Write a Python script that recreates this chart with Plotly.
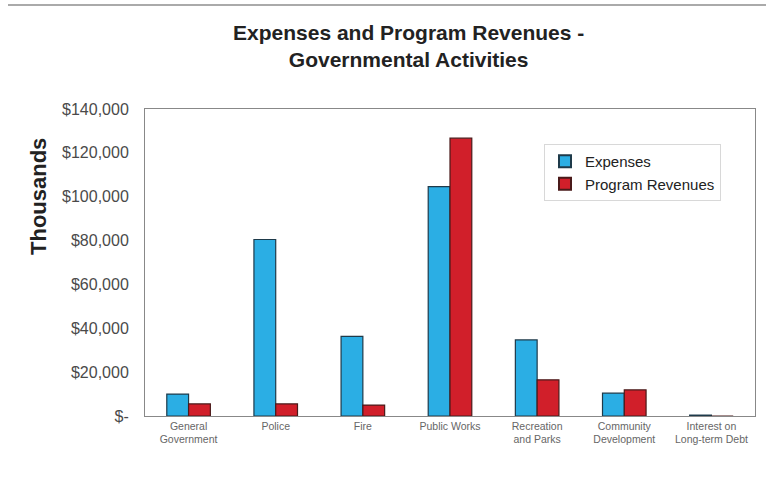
import plotly.graph_objects as go

categories = ["General<br>Government", "Police", "Fire", "Public Works",
              "Recreation<br>and Parks", "Community<br>Development",
              "Interest on<br>Long-term Debt"]
expenses = [10000, 80500, 36300, 104600, 34700, 10400, 400]
program_revenues = [5500, 5500, 5000, 126700, 16500, 11900, 0]
y_tick_values = [0, 20000, 40000, 60000, 80000, 100000, 120000, 140000]
y_tick_labels = ["$-", "$20,000", "$40,000", "$60,000", "$80,000",
                 "$100,000", "$120,000", "$140,000"]

fig = go.Figure()
fig.add_trace(go.Bar(name="Expenses", x=categories, y=expenses, legendgroup="a",
                     marker=dict(color="#2BAEE4", line=dict(color="#1e3a4a", width=1.2))))
fig.add_trace(go.Bar(name="Program Revenues", x=categories, y=program_revenues, legendgroup="b",
                     marker=dict(color="#D11F2A", line=dict(color="#4a1a1a", width=1.2))))

W, H = 766, 485
L, R, T, B = 145, 11, 109, 69
pw, ph = W - L - R, H - T - B

def px(x):
    return (x - L) / pw

def py(y):
    return (H - B - y) / ph

fig.update_layout(
    width=W, height=H,
    margin=dict(l=L, r=R, t=T, b=B),
    paper_bgcolor="white", plot_bgcolor="white",
    barmode="group", bargap=0.5, bargroupgap=0,
    font=dict(family="Arial, Liberation Sans, sans-serif", color="#333"),
    showlegend=True,
    legend=dict(x=px(544), y=py(144), xanchor="left", yanchor="top",
                bgcolor="white", bordercolor="#d8d8d8", borderwidth=1,
                font=dict(size=15, color="#222"), itemsizing="constant",
                tracegroupgap=9, traceorder="normal"),
    xaxis=dict(showline=True, linecolor="#888", linewidth=1, mirror=True,
               ticks="", tickfont=dict(size=10.5, color="#666"), showgrid=False),
    yaxis=dict(range=[0, 140000], tickvals=y_tick_values, ticktext=y_tick_labels,
               showline=True, linecolor="#888", linewidth=1, mirror=True,
               showgrid=False, ticks="outside", ticklen=12, tickcolor="rgba(0,0,0,0)",
               zeroline=False, tickfont=dict(size=16, color="#4a4a4a")),
)

fig.add_annotation(text="<b>Expenses and Program Revenues -<br>Governmental Activities</b>",
                   xref="paper", yref="paper", x=px(408), y=py(46),
                   xanchor="center", yanchor="middle", showarrow=False,
                   font=dict(size=21, color="#222"), align="center")
fig.add_annotation(text="<b>Thousands</b>", xref="paper", yref="paper",
                   x=px(38), y=py(197), textangle=-90,
                   xanchor="center", yanchor="middle", showarrow=False,
                   font=dict(size=22, color="#222"))
fig.add_shape(type="line", xref="paper", yref="paper",
              x0=px(8), x1=px(766), y0=py(5), y1=py(5),
              line=dict(color="#aaa", width=2))

fig.write_html("out.html")
